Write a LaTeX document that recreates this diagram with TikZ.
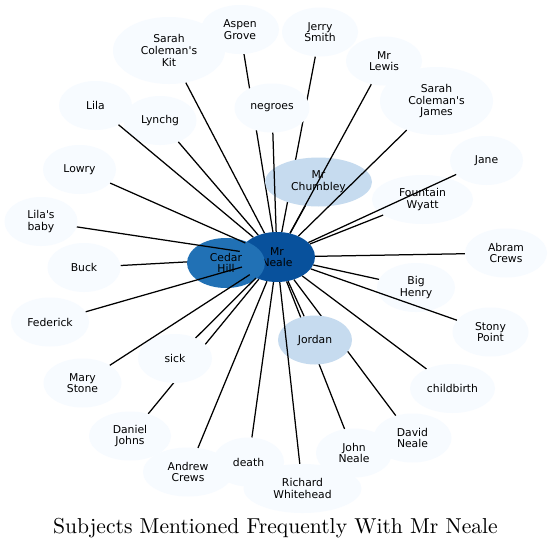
\documentclass[tikz,border=0pt]{standalone}
\usepackage{fontspec}
\usetikzlibrary{shapes.geometric}
\newfontfamily\nodefontfam{DejaVu Sans}[Ligatures=TeXOff]
\definecolor{cLight}{HTML}{F7FBFF}
\definecolor{cMid}{HTML}{C6DBEF}
\definecolor{cCedar}{HTML}{2171B5}
\definecolor{cNeale}{HTML}{08519C}
\pgfdeclarelayer{bg}
\pgfdeclarelayer{edgesA}
\pgfdeclarelayer{edgesB}
\pgfsetlayers{bg,edgesA,main,edgesB}
\tikzset{
  vnode/.style={ellipse, inner sep=0pt, align=center, text=black,
    font={\nodefontfam\fontsize{10.8}{11.7}\selectfont},
    minimum width=75pt, minimum height=49pt},
  light/.style={vnode, fill=cLight},
  midblue/.style={vnode, fill=cMid},
  cedarblue/.style={vnode, fill=cCedar},
  nealeblue/.style={vnode, fill=cNeale},
  conn/.style={line width=1.25pt, black},
  w/.style={minimum width=#1pt},
  h/.style={minimum height=#1pt}
}
\begin{document}
\begin{tikzpicture}[x=1pt,y=-1pt]
\begin{pgfonlayer}{bg}
\fill[white] (0,0) rectangle (552,549);
\end{pgfonlayer}
\useasboundingbox (0,0) rectangle (552,549);
% central nodes
\node[nealeblue, w=76, h=50] (neale) at (277,257) {Mr\\Neale};
\node[cedarblue, w=78, h=50] (cedar) at (226,263) {Cedar\\Hill};
\node[midblue, w=107] (chumbley) at (318.5,182) {Mr\\Chumbley};
\node[midblue, w=74] (jordan) at (315,340) {Jordan};
% outer nodes
\node[light, w=112, h=67] (sckit) at (169,50.5) {Sarah\\Coleman's\\Kit};
\node[light, w=78] (aspen) at (240,29.5) {Aspen\\Grove};
\node[light, w=76] (jerry) at (320,32) {Jerry\\Smith};
\node[light, w=76] (lewis) at (384,61) {Mr\\Lewis};
\node[light, w=113, h=68] (scjames) at (436.5,101) {Sarah\\Coleman's\\James};
\node[light, w=75] (negroes) at (272,108) {negroes};
\node[light, w=73] (lila) at (95.5,105.5) {Lila};
\node[light, w=73] (lynchg) at (160,120.5) {Lynchg};
\node[light, w=73] (lowry) at (79.5,169.5) {Lowry};
\node[light, w=73] (jane) at (486.5,160.5) {Jane};
\node[light, w=101] (fountain) at (422.5,199.5) {Fountain\\Wyatt};
\node[light, w=73] (lilasbaby) at (41,221.5) {Lila's\\baby};
\node[light, w=82] (abram) at (506,253) {Abram\\Crews};
\node[light, w=73] (buck) at (84,267.5) {Buck};
\node[light, w=78] (bighenry) at (416,287.5) {Big\\Henry};
\node[light, w=78] (federick) at (50,322) {Federick};
\node[light, w=76] (stony) at (490.5,332) {Stony\\Point};
\node[light, w=74] (sick) at (175,358.5) {sick};
\node[light, w=78] (marystone) at (82.5,383) {Mary\\Stone};
\node[light, w=85] (childbirth) at (452.5,388.5) {childbirth};
\node[light, w=82] (daniel) at (130,436) {Daniel\\Johns};
\node[light, w=78] (david) at (412.5,438) {David\\Neale};
\node[light, w=76] (john) at (354,453) {John\\Neale};
\node[light, w=90] (andrew) at (188,472) {Andrew\\Crews};
\node[light, w=71] (death) at (248.5,462) {death};
\node[light, w=118] (richard) at (302.5,488.5) {Richard\\Whitehead};
% title
\node[anchor=base, scale=2.16, inner sep=0pt] (title) at (275.5,533)
  {\fontsize{10}{12}\selectfont Subjects Mentioned Frequently With Mr Neale};
% edges hidden beneath nodes
\begin{pgfonlayer}{edgesA}
\draw[conn] (neale) -- (aspen);
\draw[conn] (neale) -- (jerry);
\draw[conn] (neale) -- (buck);
\draw[conn] (neale) -- (john);
\draw[conn] (neale) -- (david);
\draw[conn] (neale) -- (daniel);
\draw[conn] (neale) -- (chumbley);
\draw[conn] (neale) -- (jordan);
\draw[conn] (neale) -- (cedar);
\end{pgfonlayer}
% edges drawn over nodes
\begin{pgfonlayer}{edgesB}
\draw[conn] (neale) -- (sckit);
\draw[conn] (neale) -- (lewis);
\draw[conn] (neale) -- (scjames);
\draw[conn] (neale) -- (negroes);
\draw[conn] (neale) -- (lila);
\draw[conn] (neale) -- (lynchg);
\draw[conn] (neale) -- (lowry);
\draw[conn] (neale) -- (jane);
\draw[conn] (neale) -- (fountain);
\draw[conn] (neale) -- (lilasbaby);
\draw[conn] (neale) -- (abram);
\draw[conn] (neale) -- (bighenry);
\draw[conn] (neale) -- (federick);
\draw[conn] (neale) -- (stony);
\draw[conn] (neale) -- (sick);
\draw[conn] (neale) -- (marystone);
\draw[conn] (neale) -- (childbirth);
\draw[conn] (neale) -- (andrew);
\draw[conn] (neale) -- (death);
\draw[conn] (neale) -- (richard);
\end{pgfonlayer}
\end{tikzpicture}
\end{document}
